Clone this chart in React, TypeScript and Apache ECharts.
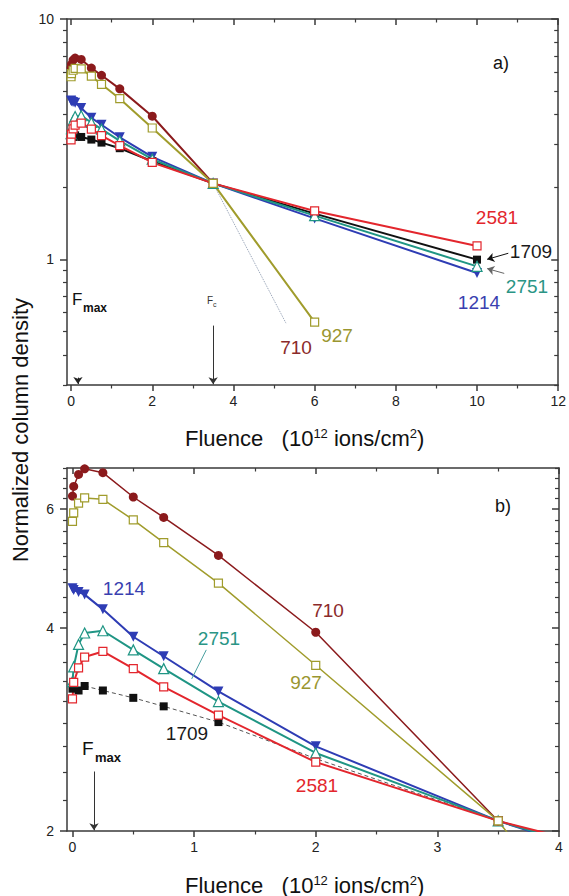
import React, { useEffect, useRef } from "react";
import * as echarts from "echarts";

// ---------- data ----------
const FLUENCE = [0, 0.01, 0.05, 0.1, 0.25, 0.5, 0.75, 1.2, 2, 3.5, 6, 10];
const COL_710 = [6.27, 6.48, 6.75, 6.88, 6.79, 6.25, 5.83, 5.12, 3.94, 2.07, null, null];
const COL_927 = [5.75, 5.92, 6.12, 6.23, 6.2, 5.78, 5.35, 4.66, 3.52, 2.07, 0.548, null];
const COL_1214 = [4.58, 4.55, 4.52, 4.48, 4.26, 3.88, 3.63, 3.22, 2.67, 2.07, 1.48, 0.877];
const COL_2751 = [3.33, 3.5, 3.78, 3.93, 3.96, 3.71, 3.48, 3.11, 2.61, 2.07, 1.52, 0.935];
const COL_2581 = [3.14, 3.32, 3.49, 3.62, 3.69, 3.48, 3.27, 2.97, 2.53, 2.07, 1.59, 1.137];
const COL_1709 = [3.25, null, 3.23, 3.28, 3.23, 3.15, 3.06, 2.9, 2.56, 2.07, 1.55, 0.997];
const EXTRAP_710_F = [3.5, 5.3];
const EXTRAP_710_V = [2.07, 0.54];

// ticks
const TOP_X_LABELS = [0, 2, 4, 6, 8, 10, 12];
const TOP_X_MINOR = [1, 3, 5, 7, 9, 11];
const TOP_Y_LABELS = [1, 10];
const TOP_Y_MINOR = [0.3, 0.4, 0.5, 0.6, 0.7, 0.8, 0.9, 2, 3, 4, 5, 6, 7, 8, 9];
const BOT_X_LABELS = [0, 1, 2, 3, 4];
const BOT_X_MINOR = [0.5, 1.5, 2.5, 3.5];
const BOT_Y_LABELS = [2, 4, 6];
const BOT_Y_MINOR = [
  2.222, 2.444, 2.667, 2.889, 3.111, 3.333, 3.556, 3.778,
  4.222, 4.444, 4.667, 4.889, 5.111, 5.333, 5.556, 5.778,
  6.222, 6.444, 6.667, 6.889,
];

const FONT = '"Liberation Sans", Arial, Helvetica, sans-serif';
const AX = "#3a3a3a";

const STYLES: Record<string, any> = {
  "710": { color: "#8b1a1c", symbol: "circle", size: 9, fill: true },
  "927": { color: "#a09c2c", symbol: "rect", size: 8, fill: false },
  "1214": { color: "#2e3cb4", symbol: "triangle", size: 10, rotate: 180, fill: true },
  "2751": { color: "#1f9584", symbol: "triangle", size: 10, fill: false },
  "2581": { color: "#e3262d", symbol: "rect", size: 8, fill: false },
  "1709": { color: "#111111", symbol: "rect", size: 8, fill: true },
};

// drawing order (first = bottom)
const SERIES: [string, (number | null)[]][] = [
  ["1709", COL_1709],
  ["1214", COL_1214],
  ["2751", COL_2751],
  ["2581", COL_2581],
  ["710", COL_710],
  ["927", COL_927],
];

function xAxesFor(grid: number, min: number, max: number, labels: number[], minor: number[]) {
  const base = {
    gridIndex: grid,
    type: "value",
    min,
    max,
    splitLine: { show: false },
    axisLine: { show: false, onZero: false },
  };
  const line = { show: true, onZero: false, lineStyle: { color: AX, width: 1.5 } };
  return [
    {
      ...base,
      position: "bottom",
      axisLine: line,
      axisTick: { show: true, inside: false, length: 6, customValues: labels, lineStyle: { color: AX, width: 1.5 } },
      axisLabel: { show: true, customValues: labels, margin: 9, fontSize: 14, color: "#222", fontFamily: FONT },
    },
    {
      ...base,
      position: "bottom",
      axisTick: { show: true, inside: false, length: 3.5, customValues: minor, lineStyle: { color: AX, width: 1.2 } },
      axisLabel: { show: false },
    },
    {
      ...base,
      position: "top",
      axisLine: line,
      axisTick: { show: true, inside: true, length: 6, customValues: labels, lineStyle: { color: AX, width: 1.5 } },
      axisLabel: { show: false },
    },
    {
      ...base,
      position: "top",
      axisTick: { show: true, inside: true, length: 3.5, customValues: minor, lineStyle: { color: AX, width: 1.2 } },
      axisLabel: { show: false },
    },
  ];
}

function yAxesFor(grid: number, min: number, max: number, labels: number[], minor: number[]) {
  const base = {
    gridIndex: grid,
    type: "log",
    logBase: 10,
    min,
    max,
    splitLine: { show: false },
    minorSplitLine: { show: false },
    axisLine: { show: false, onZero: false },
  };
  const line = { show: true, onZero: false, lineStyle: { color: AX, width: 1.5 } };
  return [
    {
      ...base,
      position: "left",
      axisLine: line,
      axisTick: { show: true, inside: false, length: 7, customValues: labels, lineStyle: { color: AX, width: 1.5 } },
      axisLabel: { show: true, customValues: labels, margin: 13, fontSize: 14, color: "#222", fontFamily: FONT },
    },
    {
      ...base,
      position: "left",
      axisTick: { show: true, inside: false, length: 4, customValues: minor, lineStyle: { color: AX, width: 1.2 } },
      axisLabel: { show: false },
    },
    {
      ...base,
      position: "right",
      axisLine: line,
      axisTick: { show: true, inside: true, length: 7, customValues: labels, lineStyle: { color: AX, width: 1.5 } },
      axisLabel: { show: false },
    },
    {
      ...base,
      position: "right",
      axisTick: { show: true, inside: true, length: 4, customValues: minor, lineStyle: { color: AX, width: 1.2 } },
      axisLabel: { show: false },
    },
  ];
}

function makeSeries(grid: number, name: string, vals: (number | null)[]) {
  const st = STYLES[name];
  const data = FLUENCE.map((f, i) => (vals[i] == null ? null : [f, vals[i]])).filter((d) => d !== null);
  let lineStyle: any = { color: st.color, width: 2 };
  if (grid === 1) {
    if (name === "710" || name === "927") lineStyle = { color: st.color, width: 1.5 };
    if (name === "1709") lineStyle = { color: "#555", width: 1, type: [4, 3] };
  }
  return {
    type: "line",
    name: name + (grid === 0 ? " a" : " b"),
    xAxisIndex: grid * 4,
    yAxisIndex: grid * 4,
    data,
    symbol: st.symbol,
    symbolSize: st.size,
    symbolRotate: st.rotate || 0,
    showAllSymbol: true,
    clip: true,
    silent: true,
    emphasis: { disabled: true },
    itemStyle: {
      color: st.fill ? st.color : "#ffffff",
      borderColor: st.color,
      borderWidth: st.fill ? 0 : 1.2,
    },
    lineStyle,
  };
}

function arrow(a: number[], b: number[], color: string, withHead = true, width = 1) {
  return [
    { coord: a, symbol: "none", lineStyle: { color, width, type: "solid" } },
    { coord: b, symbol: withHead ? "arrow" : "none" },
  ];
}

function txt(text: string, x: number, y: number, color: string, size = 19, extra: any = {}) {
  return {
    type: "text",
    x,
    y,
    silent: true,
    style: {
      text,
      fill: color,
      fontSize: size,
      fontFamily: FONT,
      align: "center",
      verticalAlign: "middle",
      textAlign: "center",
      textVerticalAlign: "middle",
      ...extra,
    },
  };
}

function xTitle(x: number, y: number) {
  const t = { fontSize: 22, fontFamily: FONT, fill: "#111", color: "#111" };
  const s = { fontSize: 13, fontFamily: FONT, fill: "#111", color: "#111", verticalAlign: "top" };
  return {
    type: "text",
    x,
    y,
    silent: true,
    style: {
      text: "{t|Fluence   (10}{s|12}{t| ions/cm}{s|2}{t|)}",
      rich: { t, s },
      align: "left",
      verticalAlign: "middle",
      textAlign: "left",
      textVerticalAlign: "middle",
    },
  };
}

function buildOption() {
  const series: any[] = [];
  // dotted extrapolation of 710 in panel a (bottom-most)
  series.push({
    type: "line",
    name: "710 extrapolation",
    xAxisIndex: 0,
    yAxisIndex: 0,
    data: EXTRAP_710_F.map((f, i) => [f, EXTRAP_710_V[i]]),
    symbol: "none",
    silent: true,
    lineStyle: { color: "#8e9bb0", width: 1, type: "dotted" },
    markLine: {
      silent: true,
      animation: false,
      symbolSize: 7,
      label: { show: false },
      emphasis: { disabled: true },
      data: [
        arrow([3.5, 0.53], [3.5, 0.302], "#333"),
        arrow([0.17, 0.322], [0.17, 0.303], "#222"),
        arrow([10.77, 1.06], [10.25, 1.0], "#111"),
        arrow([10.67, 0.874], [10.25, 0.915], "#666"),
      ],
    },
  });
  SERIES.forEach(([n, v]) => series.push(makeSeries(0, n, v)));
  SERIES.forEach(([n, v]) => series.push(makeSeries(1, n, v)));

  // annotations panel b
  series.push({
    type: "line",
    name: "annot b",
    xAxisIndex: 4,
    yAxisIndex: 4,
    data: [],
    symbol: "none",
    silent: true,
    markLine: {
      silent: true,
      animation: false,
      symbolSize: 7,
      label: { show: false },
      emphasis: { disabled: true },
      data: [
        arrow([0.177, 2.45], [0.177, 2.005], "#333"),
        arrow([1.1, 3.71], [0.98, 3.36], "#4aa0a0", false),
      ],
    },
  });

  const graphic: any[] = [
    // y title
    {
      type: "text",
      x: 20,
      y: 430,
      rotation: Math.PI / 2,
      silent: true,
      style: {
        text: "Normalized column density",
        fill: "#111",
        fontSize: 22,
        fontFamily: FONT,
        align: "center",
        verticalAlign: "middle",
        textAlign: "center",
        textVerticalAlign: "middle",
      },
    },
    xTitle(185, 438),
    xTitle(185, 885),
    // panel a
    txt("a)", 501, 63, "#111", 18),
    txt("2581", 497, 217, "#e3262d"),
    txt("1709", 531, 251, "#1a1a1a"),
    txt("2751", 527, 286, "#2a9585"),
    txt("1214", 479, 302, "#3a3fb0"),
    txt("927", 337, 335, "#9a9630"),
    txt("710", 296, 347, "#8b2a2a"),
    txt("F", 72, 299, "#111", 17, { align: "left", textAlign: "left" }),
    txt("max", 83, 308, "#111", 12, { align: "left", textAlign: "left", fontWeight: "bold" }),
    txt("F", 207, 300, "#333", 10, { align: "left", textAlign: "left" }),
    txt("c", 213, 304, "#333", 7, { align: "left", textAlign: "left" }),
    // panel b
    txt("b)", 503, 506, "#111", 18),
    txt("710", 328, 610, "#8b2a2a"),
    txt("927", 306, 682, "#9a9630"),
    txt("1214", 124, 588, "#3a3fb0"),
    txt("2751", 219, 638, "#2a9585"),
    txt("1709", 187, 733, "#1a1a1a"),
    txt("2581", 317, 785, "#e3262d"),
    txt("F", 82, 748, "#111", 19, { align: "left", textAlign: "left" }),
    txt("max", 95, 757, "#111", 13, { align: "left", textAlign: "left", fontWeight: "bold" }),
  ];

  return {
    animation: false,
    backgroundColor: "#ffffff",
    textStyle: { fontFamily: FONT },
    grid: [
      { left: 67, top: 19, width: 492, height: 366, containLabel: false },
      { left: 67, top: 468, width: 492, height: 363, containLabel: false },
    ],
    xAxis: [
      ...xAxesFor(0, -0.1, 12, TOP_X_LABELS, TOP_X_MINOR),
      ...xAxesFor(1, -0.045, 4, BOT_X_LABELS, BOT_X_MINOR),
    ],
    yAxis: [
      ...yAxesFor(0, 0.3, 10, TOP_Y_LABELS, TOP_Y_MINOR),
      ...yAxesFor(1, 2, 6.9, BOT_Y_LABELS, BOT_Y_MINOR),
    ],
    series,
    graphic,
  };
}

export default function App() {
  const ref = useRef<HTMLDivElement>(null);
  useEffect(() => {
    if (!ref.current) return;
    const chart = echarts.init(ref.current, null, { renderer: "svg" });
    chart.setOption(buildOption() as any);
    return () => chart.dispose();
  }, []);
  return (
    <div
      ref={ref}
      style={{ position: "absolute", left: 0, top: 0, width: 569, height: 896, background: "#fff" }}
    />
  );
}
